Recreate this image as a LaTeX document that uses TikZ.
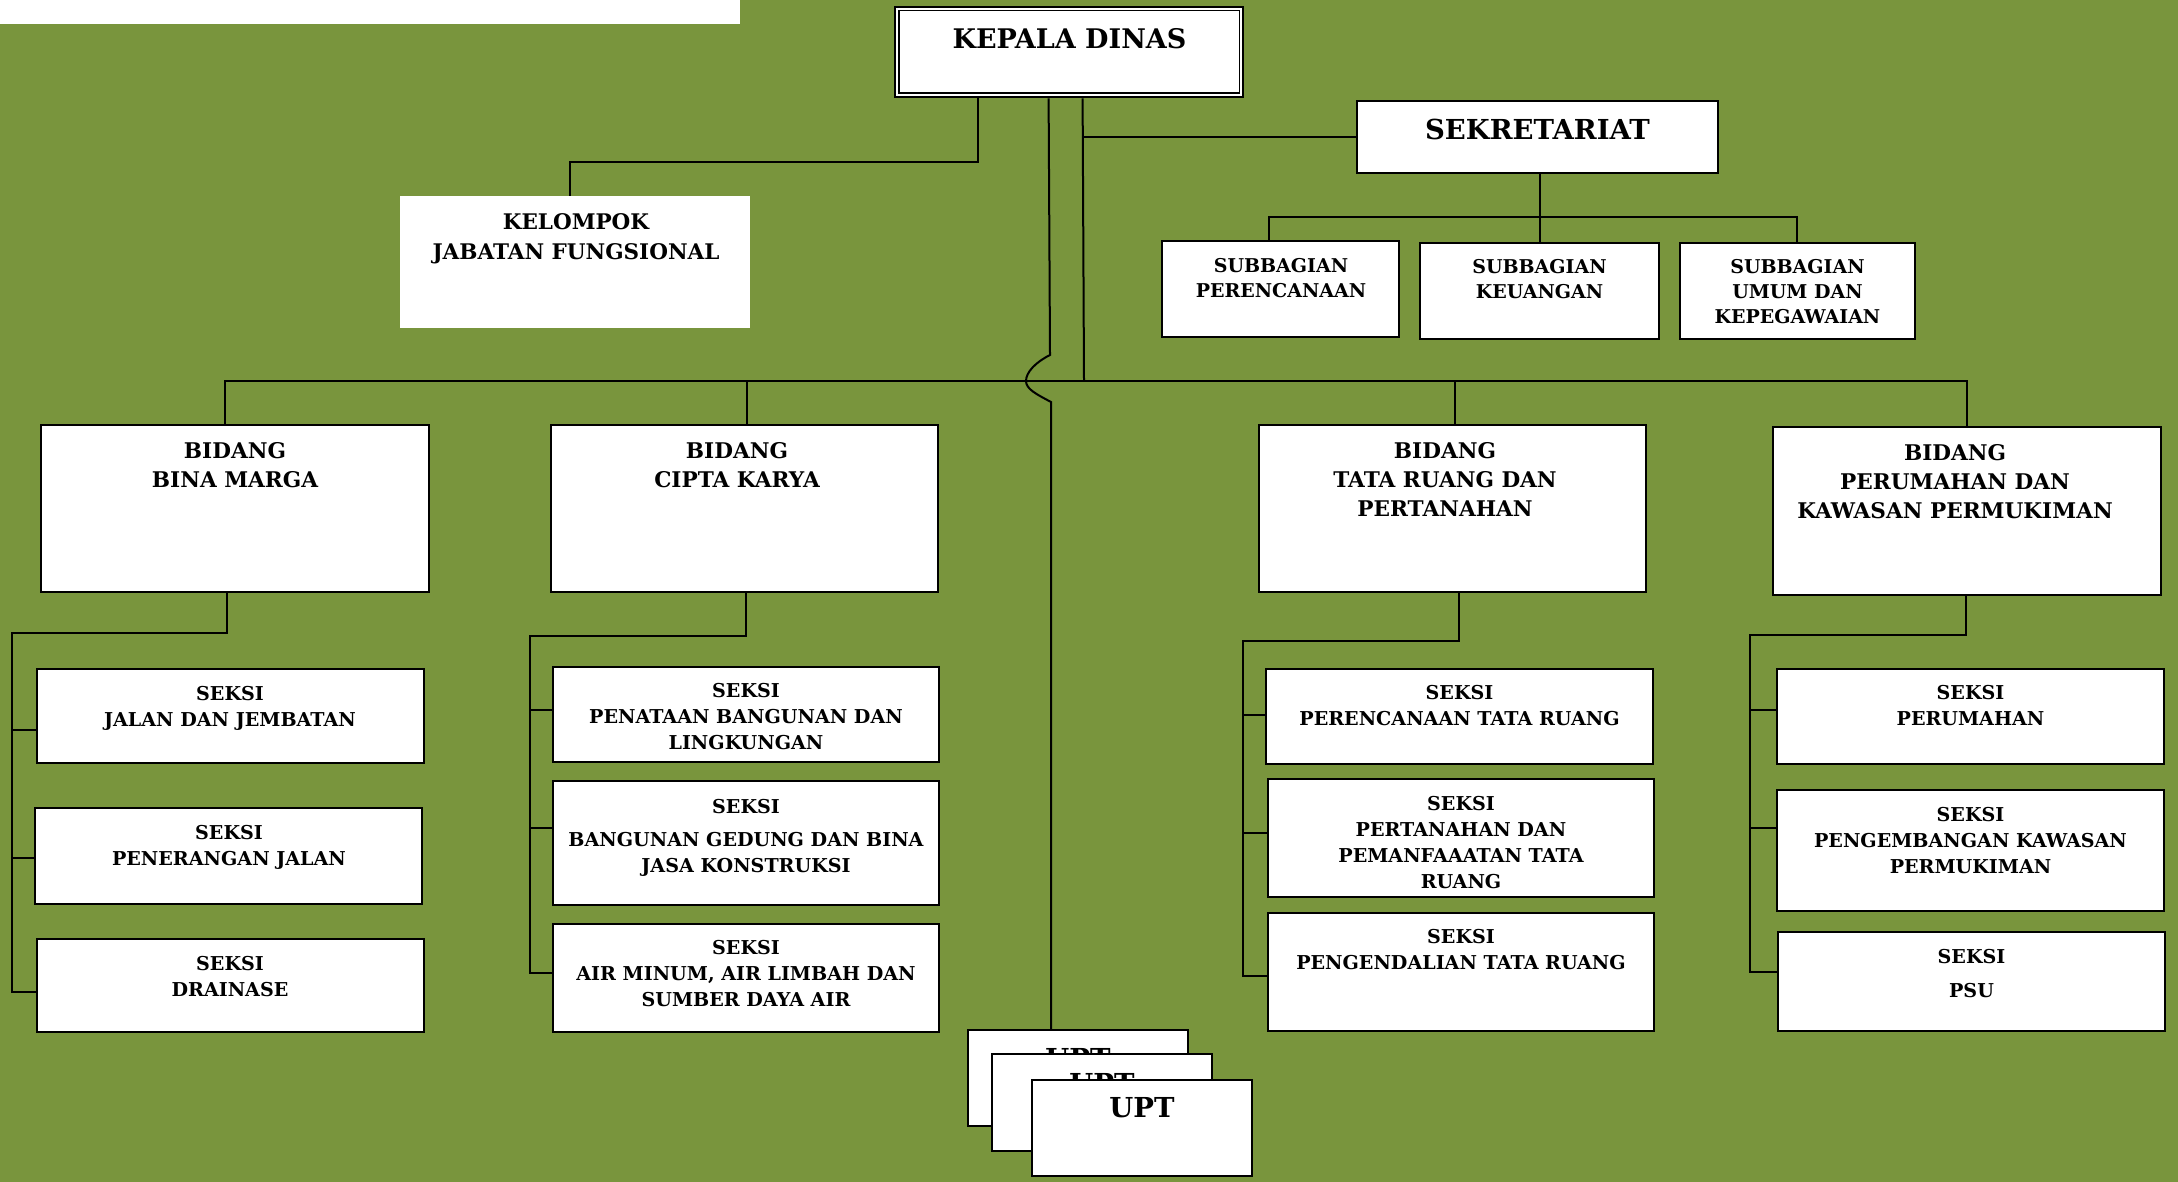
\documentclass[tikz,border=0pt]{standalone}
\usepackage{fontspec}
\setmainfont{DejaVu Serif}
\usetikzlibrary{fit}
\definecolor{chartbg}{RGB}{121,149,61}

\begin{document}
\begin{tikzpicture}[x=1pt,y=-1pt,
  box/.style={draw=black, line width=2.3pt, fill=white, inner sep=0pt},
  sheet/.style={fill=white, inner sep=0pt},
  link/.style={draw=black, line width=2pt},
  txt/.style={anchor=north, inner sep=0pt, align=center},
  fhead/.style={txt, font=\fontsize{27}{32}\selectfont\bfseries},
  fsek/.style={txt, font=\fontsize{27.5}{32}\selectfont\bfseries},
  fbid/.style={txt, font=\fontsize{21.6}{29}\selectfont\bfseries},
  fseksi/.style={txt, font=\fontsize{19.1}{26}\selectfont\bfseries},
  fsub/.style={txt, font=\fontsize{19}{25}\selectfont\bfseries},
  fjf/.style={txt, font=\fontsize{21.5}{30}\selectfont\bfseries},
  fupt/.style={txt, font=\fontsize{27.5}{34}\selectfont\bfseries},
]
% page
\fill[chartbg] (0,0) rectangle (2178,1182);
\useasboundingbox (0,0) rectangle (2178,1182);
\fill[white] (0,0) rectangle (740,24);

% ---- head of office (double frame)
\node[box, line width=2.8pt, fit={(895,7) (1243,97)}] (kd) {};
\draw[line width=1.8pt] ([shift={(5pt,-5pt)}]kd.north west) rectangle ([shift={(-5pt,5pt)}]kd.south east);
\node[fhead] (kdt) at (1069.5,28) {KEPALA DINAS};

% ---- functional group
\node[sheet, fit={(400,196) (750,328)}] (kjf) {};
\node[fjf] (kjft) at (576,213) {KELOMPOK\\JABATAN FUNGSIONAL};

% ---- secretariat
\node[box, fit={(1357,101) (1718,173)}] (sek) {};
\node[fsek] (sekt) at (1537.5,118.5) {SEKRETARIAT};

\node[box, fit={(1162,241) (1399,337)}] (sub1) {};
\node[box, fit={(1420,243) (1659,339)}] (sub2) {};
\node[box, fit={(1680,243) (1915,339)}] (sub3) {};
\node[fsub] (sub1t) at (1281,258.5) {SUBBAGIAN\\PERENCANAAN};
\node[fsub] (sub2t) at (1539.5,259.5) {SUBBAGIAN\\KEUANGAN};
\node[fsub] (sub3t) at (1797.5,259.5) {SUBBAGIAN\\UMUM DAN\\KEPEGAWAIAN};

% ---- divisions
\node[box, fit={(41,425) (429,592)}] (bm) {};
\node[box, fit={(551,425) (938,592)}] (ck) {};
\node[box, fit={(1259,425) (1646,592)}] (tr) {};
\node[box, fit={(1773,427) (2161,595)}] (pk) {};
\node[fbid] (bmt) at (235,442) {BIDANG\\BINA MARGA};
\node[fbid] (ckt) at (737,442) {BIDANG\\CIPTA KARYA};
\node[fbid] (trt) at (1445,442) {BIDANG\\TATA RUANG DAN\\PERTANAHAN};
\node[fbid] (pkt) at (1955,444.5) {BIDANG\\PERUMAHAN DAN\\KAWASAN PERMUKIMAN};

% ---- sections: Bina Marga
\node[box, fit={(37,669) (424,763)}] (bm1) {};
\node[box, fit={(35,808) (422,904)}] (bm2) {};
\node[box, fit={(37,939) (424,1032)}] (bm3) {};
\node[fseksi] (bm1t) at (230,686.5) {SEKSI\\JALAN DAN JEMBATAN};
\node[fseksi] (bm2t) at (229,825.5) {SEKSI\\PENERANGAN JALAN};
\node[fseksi] (bm3t) at (230,956) {SEKSI\\DRAINASE};

% ---- sections: Cipta Karya
\node[box, fit={(553,667) (939,762)}] (ck1) {};
\node[box, fit={(553,781) (939,905)}] (ck2) {};
\node[box, fit={(553,924) (939,1032)}] (ck3) {};
\node[fseksi] (ck1t) at (746,683) {SEKSI\\PENATAAN BANGUNAN DAN\\LINGKUNGAN};
\node[fseksi] (ck2t) at (746,799) {SEKSI\\[7pt]BANGUNAN GEDUNG DAN BINA\\JASA KONSTRUKSI};
\node[fseksi] (ck3t) at (746,940) {SEKSI\\AIR MINUM, AIR LIMBAH DAN\\SUMBER DAYA AIR};

% ---- sections: Tata Ruang
\node[box, fit={(1266,669) (1653,764)}] (tr1) {};
\node[box, fit={(1268,779) (1654,897)}] (tr2) {};
\node[box, fit={(1268,913) (1654,1031)}] (tr3) {};
\node[fseksi] (tr1t) at (1459.5,685) {SEKSI\\PERENCANAAN TATA RUANG};
\node[fseksi] (tr2t) at (1461,796) {SEKSI\\PERTANAHAN DAN\\PEMANFAAATAN TATA\\RUANG};
\node[fseksi] (tr3t) at (1461,929) {SEKSI\\PENGENDALIAN TATA RUANG};

% ---- sections: Perumahan
\node[box, fit={(1777,669) (2164,764)}] (pk1) {};
\node[box, fit={(1777,790) (2164,911)}] (pk2) {};
\node[box, fit={(1778,932) (2165,1031)}] (pk3) {};
\node[fseksi] (pk1t) at (1970.5,685.5) {SEKSI\\PERUMAHAN};
\node[fseksi] (pk2t) at (1970.5,807) {SEKSI\\PENGEMBANGAN KAWASAN\\PERMUKIMAN};
\node[fseksi] (pk3t) at (1971.5,949) {SEKSI\\[8pt]PSU};

% ---- technical units (stacked sheets)
\node[box, fit={(968,1030) (1188,1126)}] (upt1) {};
\node[fupt] (upt1t) at (1078,1048) {UPT};
\node[box, fit={(992,1054) (1212,1151)}] (upt2) {};
\node[fupt] (upt2t) at (1102,1073) {UPT};
\node[box, fit={(1032,1080) (1252,1176)}] (upt3) {};
\node[fupt] (upt3t) at (1142,1097) {UPT};

% ---- junction points
\coordinate (bus) at (0,381);
\coordinate (jsek) at (1084,381);
\coordinate (hopA) at (1050,355);
\coordinate (hopM) at (1026,381);
\coordinate (hopB) at (1051,402);
\coordinate (spBM) at (12,633);
\coordinate (spCK) at (530,636);
\coordinate (spTR) at (1243,640.5);
\coordinate (spPK) at (1750,635);

% head -> functional group
\draw[link] ([xshift=84pt]kd.south west) -- ++(0,64) -| ([xshift=-5pt]kjf.north);
% head -> secretariat and division bus
\draw[link] ([xshift=189pt]kd.south west) -- (jsek);
\draw[link] (sek.west) -- (sek.west -| jsek);
% head -> technical units, hopping over the bus
\draw[link] ([xshift=155pt]kd.south west) -- (hopA)
  .. controls (1036,362) and (1026,372) .. (hopM)
  .. controls (1026,389) and (1036,394) .. (hopB)
  -- ([xshift=-27pt]upt1.north);
% secretariat -> sub-sections
\draw[link] (sub2.north) -- (sub2.north |- sek.south);
\draw[link] ([xshift=-12pt]sub1.north) -- ++(0,-23) -| ([xshift=-0.5pt]sub3.north);
% division bus
\draw[link] ([xshift=-10pt]bm.north) |- (bus -| jsek) -- (bus -| pk.north) -- (pk.north);
\draw[link] ([xshift=2.5pt]ck.north) -- ([xshift=2.5pt]ck.north |- bus);
\draw[link] ([xshift=2.5pt]tr.north) -- ([xshift=2.5pt]tr.north |- bus);

% Bina Marga sections
\draw[link] ([xshift=-8pt]bm.south) |- (spBM) -- ([yshift=-6.5pt]bm3.west -| spBM) -- ([yshift=-6.5pt]bm3.west);
\draw[link] ([yshift=-14pt]bm1.west) -- ([yshift=-14pt]bm1.west -| spBM);
\draw[link] ([yshift=-2pt]bm2.west) -- ([yshift=-2pt]bm2.west -| spBM);
% Cipta Karya sections
\draw[link] ([xshift=1.5pt]ck.south) |- (spCK) -- ([yshift=5pt]ck3.west -| spCK) -- ([yshift=5pt]ck3.west);
\draw[link] ([yshift=4.5pt]ck1.west) -- ([yshift=4.5pt]ck1.west -| spCK);
\draw[link] ([yshift=15pt]ck2.west) -- ([yshift=15pt]ck2.west -| spCK);
% Tata Ruang sections
\draw[link] ([xshift=6.5pt]tr.south) |- (spTR) -- ([yshift=-4pt]tr3.west -| spTR) -- ([yshift=-4pt]tr3.west);
\draw[link] ([yshift=1.5pt]tr1.west) -- ([yshift=1.5pt]tr1.west -| spTR);
\draw[link] ([yshift=5pt]tr2.west) -- ([yshift=5pt]tr2.west -| spTR);
% Perumahan sections
\draw[link] ([xshift=-1pt]pk.south) |- (spPK) -- ([yshift=9.5pt]pk3.west -| spPK) -- ([yshift=9.5pt]pk3.west);
\draw[link] ([yshift=7pt]pk1.west) -- ([yshift=7pt]pk1.west -| spPK);
\draw[link] ([yshift=22.5pt]pk2.west) -- ([yshift=22.5pt]pk2.west -| spPK);
\end{tikzpicture}
\end{document}
